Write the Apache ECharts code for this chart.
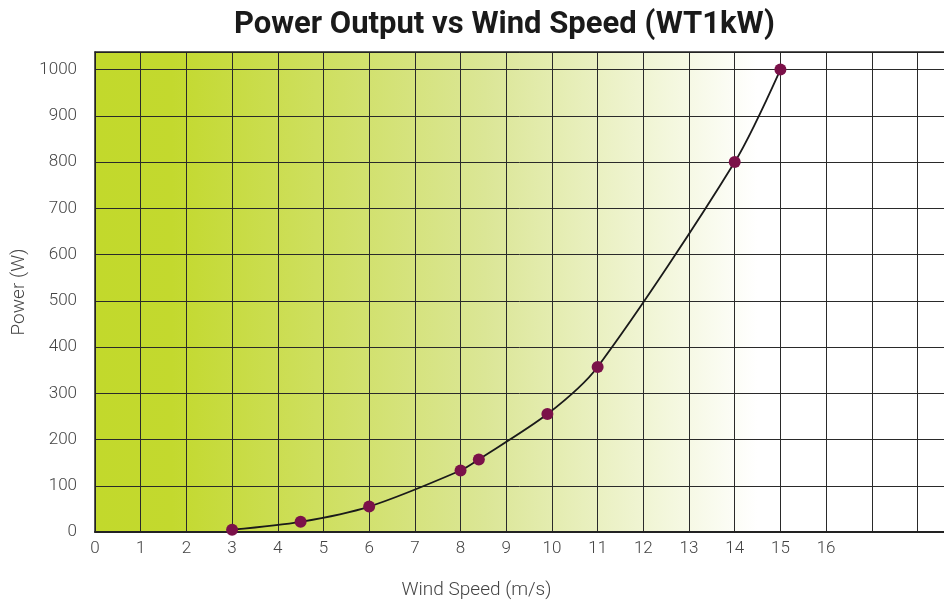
<!DOCTYPE html>
<html>
<head>
<meta charset="utf-8">
<script src="https://cdn.jsdelivr.net/npm/echarts@6/dist/echarts.min.js"></script>
<style>
html,body{margin:0;padding:0;background:#fff;}
#chart{width:944px;height:606px;}
</style>
</head>
<body>
<div id="chart"></div>
<script>
var titleText = 'Power Output vs Wind Speed (WT1kW)';
var xAxisName = 'Wind Speed (m/s)';
var yAxisName = 'Power (W)';
var windSpeed = [3, 4.5, 6, 8, 8.4, 9.9, 11, 14, 15];
var power = [5, 22, 55, 133, 157, 255, 357, 800, 1000];
var xLabelMax = 16;
var yLabelMax = 1000;

var chart = echarts.init(document.getElementById('chart'));
var pts = windSpeed.map(function (x, i) { return [x, power[i]]; });
var labelFont = { color: '#444', fontFamily: 'Roboto', fontWeight: 300, fontSize: 17 };

chart.setOption({
  animation: false,
  title: {
    text: titleText,
    left: 229, top: 5,
    textStyle: { fontFamily: 'Roboto', fontWeight: 'bold', fontSize: 31, color: '#1a1a1a' }
  },
  grid: {
    left: 95, right: 0, top: 52, bottom: 74,
    show: true, borderWidth: 0,
    backgroundColor: {
      type: 'linear', x: 0, y: 0, x2: 1, y2: 0,
      colorStops: [
        { offset: 0, color: '#c2d92c' },
        { offset: 0.09, color: '#c3d92e' },
        { offset: 0.46, color: '#dbe696' },
        { offset: 0.78, color: '#ffffff' },
        { offset: 1, color: '#ffffff' }
      ]
    }
  },
  xAxis: [{
    type: 'value', min: 0, max: 18.58, interval: 1,
    name: xAxisName, nameLocation: 'middle', nameGap: 49,
    nameTextStyle: { color: '#444', fontFamily: 'Roboto', fontWeight: 300, fontSize: 19, padding: [0, 86, 0, 0] },
    axisLine: { show: true, lineStyle: { color: '#222', width: 2 } },
    axisTick: { show: false },
    axisLabel: Object.assign({ margin: 8, showMaxLabel: false,
      formatter: function (v) { return v <= xLabelMax ? String(v) : ''; } }, labelFont),
    splitLine: { show: true, lineStyle: { color: '#2a2a2a', width: 1 } }
  }, {
    type: 'value', min: 0, max: 18.58, position: 'top',
    axisLine: { show: true, lineStyle: { color: '#222', width: 1.5 } },
    axisTick: { show: false }, axisLabel: { show: false }, splitLine: { show: false }
  }],
  yAxis: {
    type: 'value', min: 0, max: 1038, interval: 100,
    name: yAxisName, nameLocation: 'middle', nameGap: 59,
    nameTextStyle: { color: '#444', fontFamily: 'Roboto', fontWeight: 300, fontSize: 19 },
    axisLine: { show: true, lineStyle: { color: '#222', width: 1.5 } },
    axisTick: { show: false },
    axisLabel: Object.assign({ margin: 18, showMaxLabel: false,
      formatter: function (v) { return v <= yLabelMax ? String(v) : ''; } }, labelFont),
    splitLine: { show: true, lineStyle: { color: '#2a2a2a', width: 1 } }
  },
  series: [{
    type: 'line',
    data: pts,
    smooth: 0.28,
    symbol: 'circle', symbolSize: 12,
    itemStyle: { color: '#7b1149' },
    lineStyle: { color: '#1a1a1a', width: 1.8 },
    z: 5
  }]
});
</script>
</body>
</html>
